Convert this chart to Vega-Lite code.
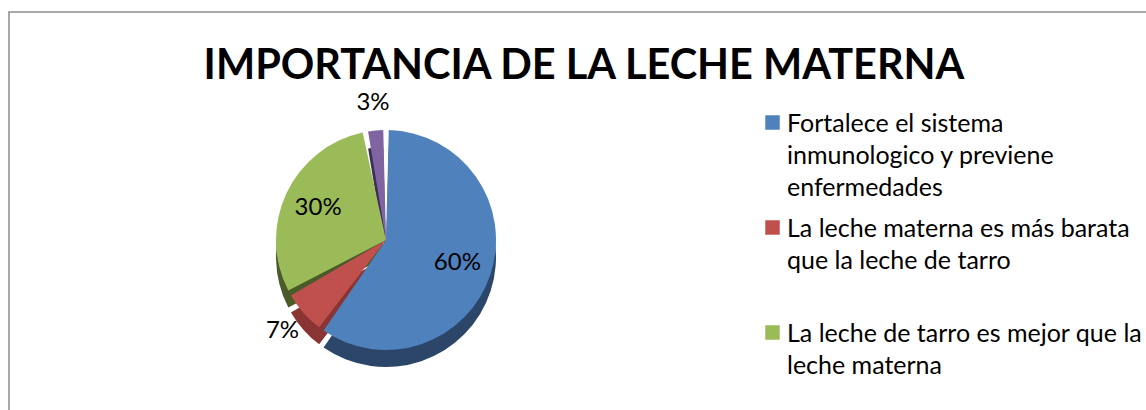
{
  "$schema": "https://vega.github.io/schema/vega-lite/v6.json",
  "width": 1150,
  "height": 410,
  "autosize": "none",
  "padding": {"left": 9, "top": 12, "right": 0, "bottom": 0},
  "background": "white",
  "view": {"stroke": "#8c8c8c", "strokeWidth": 1.5, "fill": "white"},
  "config": {
    "view": {"stroke": "#8c8c8c", "strokeWidth": 1.5},
    "font": "Lato",
    "style": {"guide-label": {"lineHeight": 32, "dy": -11}}
  },
  "title": {
    "text": "IMPORTANCIA DE LA LECHE MATERNA",
    "font": "Lato",
    "fontSize": 41.5,
    "fontWeight": "bold",
    "color": "#000000",
    "anchor": "middle",
    "frame": "group",
    "baseline": "alphabetic",
    "orient": "top",
    "offset": -108,
    "dx": 0
  },
  "data": {
    "values": [
      {"cat": "Fortalece el sistema inmunologico y previene enfermedades", "value": 60, "label": "60%", "order": 1},
      {"cat": "La leche materna es más barata que la leche de tarro", "value": 7, "label": "7%", "order": 2},
      {"cat": "La leche de tarro es mejor que la leche materna", "value": 30, "label": "30%", "order": 3},
      {"cat": "Otra respuesta", "value": 3, "label": "3%", "order": 4}
    ]
  },
  "encoding": {
    "theta": {"field": "value", "type": "quantitative", "stack": true},
    "order": {"field": "order", "type": "quantitative", "sort": "ascending"}
  },
  "layer": [
    {
      "mark": {"type": "arc", "outerRadius": 110, "padAngle": 0.05, "x": 377, "y": 245, "stroke": null},
      "encoding": {
        "fill": {
          "field": "order", "type": "ordinal", "legend": null,
          "scale": {"domain": [1, 2, 3, 4], "range": ["#2B4668", "#8A3533", "#4A5A29", "#3E2F55"]}
        }
      }
    },
    {
      "mark": {"type": "arc", "outerRadius": 110, "padAngle": 0.05, "x": 377, "y": 228, "stroke": null},
      "encoding": {
        "color": {
          "field": "cat", "type": "nominal",
          "scale": {
            "domain": [
              "Fortalece el sistema inmunologico y previene enfermedades",
              "La leche materna es más barata que la leche de tarro",
              "La leche de tarro es mejor que la leche materna",
              "Otra respuesta"
            ],
            "range": ["#4F81BD", "#C0504D", "#9BBB59", "#8064A2"]
          },
          "legend": {
            "orient": "none",
            "legendX": 751,
            "legendY": 98,
            "title": null,
            "values": [
              "Fortalece el sistema inmunologico y previene enfermedades",
              "La leche materna es más barata que la leche de tarro",
              "La leche de tarro es mejor que la leche materna"
            ],
            "symbolType": "square",
            "symbolSize": 210,
            "symbolStrokeWidth": 0,
            "labelFont": "Lato",
            "labelFontSize": 25,
            "labelColor": "#000000",
            "labelLimit": 500,
            "labelOffset": 2,
            "labelBaseline": "top",
            "gridAlign": "all",
            "rowPadding": 14,
            "labelExpr": "datum.label == 'Fortalece el sistema inmunologico y previene enfermedades' ? ['Fortalece el sistema', 'inmunologico y previene', 'enfermedades'] : datum.label == 'La leche materna es más barata que la leche de tarro' ? ['La leche materna es más barata', 'que la leche de tarro'] : ['La leche de tarro es mejor que la', 'leche materna']"
          }
        }
      }
    },
    {
      "mark": {"type": "text", "radius": 75, "x": 377, "y": 228, "font": "Lato", "fontSize": 24, "color": "#000000"},
      "encoding": {
        "text": {"condition": {"test": "datum.value >= 30", "field": "label"}, "value": ""}
      }
    },
    {
      "mark": {"type": "text", "radius": 138, "x": 377, "y": 228, "font": "Lato", "fontSize": 24, "color": "#000000"},
      "encoding": {
        "text": {"condition": {"test": "datum.value < 30", "field": "label"}, "value": ""}
      }
    }
  ]
}
